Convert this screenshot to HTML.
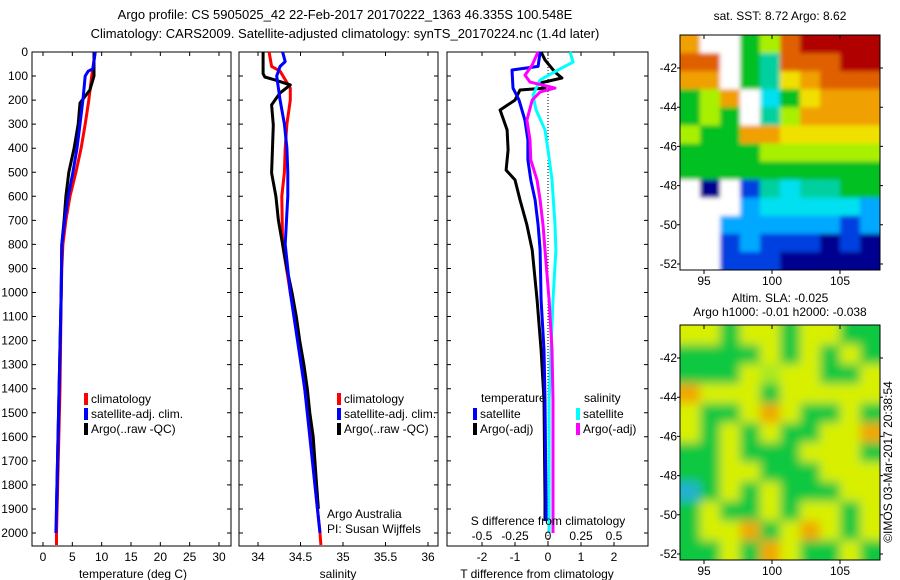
<!DOCTYPE html>
<html><head><meta charset="utf-8">
<style>
html,body{margin:0;padding:0;background:#fff;}
svg{display:block;font-family:"Liberation Sans",sans-serif;font-size:12px;}
</style></head>
<body>
<svg id="fig" width="900" height="580" viewBox="0 0 900 580" xmlns="http://www.w3.org/2000/svg">
<defs>
<filter id="blur" x="-5%" y="-5%" width="110%" height="110%"><feGaussianBlur stdDeviation="5"/></filter>
<filter id="blur2" x="-5%" y="-5%" width="110%" height="110%"><feGaussianBlur stdDeviation="2"/></filter>
<clipPath id="c1"><rect x="680" y="35" width="200" height="235"/></clipPath>
<clipPath id="c2"><rect x="680" y="325" width="200" height="235"/></clipPath>
</defs>
<text x="345" y="19" text-anchor="middle" font-size="13">Argo profile: CS 5905025_42 22-Feb-2017 20170222_1363 46.335S 100.548E</text>
<text x="345" y="38" text-anchor="middle" font-size="13">Climatology: CARS2009. Satellite-adjusted climatology: synTS_20170224.nc (1.4d later)</text>
<g id="g1"></g>
<g id="g2"></g>
<g id="g3"></g>
<g id="m1"></g>
<g id="m2"></g>
<text x="780" y="20" text-anchor="middle">sat. SST: 8.72 Argo: 8.62</text>
<text x="780" y="302" text-anchor="middle">Altim. SLA: -0.025</text>
<text x="780" y="316" text-anchor="middle">Argo h1000: -0.01 h2000: -0.038</text>
<text transform="translate(892,462) rotate(-90)" text-anchor="middle">©IMOS 03-Mar-2017 20:38:54</text>
<text x="327" y="518">Argo Australia</text>
<text x="327" y="533">PI: Susan Wijffels</text>
</svg>
<script>
// ---- data ----
const depthTicks=[0,100,200,300,400,500,600,700,800,900,1000,1100,1200,1300,1400,1500,1600,1700,1800,1900,2000];
const tempTicks=[0,5,10,15,20,25,30];
const salTicks=[34,34.5,35,35.5,36];
const salTickLabels=["34","34.5","35","35.5","36"];
const tdTicks=[-2,-1,0,1,2];
const sdTicks=[-0.5,-0.25,0,0.25,0.5];
const sdTickLabels=["-0.5","-0.25","0","0.25","0.5"];
const tempClimD=[0,100,200,300,400,500,600,700,800,900,1000,1400,2000,2050];
const tempClimV=[8.9,8.3,7.8,7.2,6.5,5.6,4.6,3.9,3.4,3.2,3.1,2.9,2.3,2.3];
const tempSatD=[0,70,80,100,200,300,400,500,600,700,800,1000,2000];
const tempSatV=[8.9,8.5,7.7,7.2,6.8,6.3,5.8,5.1,4.3,3.7,3.2,3.1,2.2];
const tempArgoD=[0,100,158,212,300,400,500,600,700,800,1000,1900];
const tempArgoV=[8.7,8.7,8.0,6.3,6.0,5.3,4.4,3.9,3.6,3.2,3.1,2.3];
const salClimD=[0,60,80,150,200,300,400,500,600,800,1000,1200,1400,1600,1800,2000,2050];
const salClimV=[34.13,34.16,34.26,34.38,34.38,34.34,34.32,34.31,34.28,34.29,34.38,34.48,34.55,34.62,34.67,34.73,34.74];
const salSatD=[0,40,60,100,150,200,300,400,500,600,800,1000,1400,2000];
const salSatV=[34.29,34.32,34.26,34.22,34.24,34.26,34.31,34.34,34.35,34.35,34.32,34.38,34.55,34.73];
const salArgoD=[0,90,104,116,137,170,220,304,503,600,700,800,900,1000,1100,1200,1300,1400,1500,1600,1800,1900];
const salArgoV=[34.06,34.06,34.08,34.2,34.38,34.26,34.16,34.18,34.16,34.21,34.24,34.29,34.34,34.4,34.45,34.49,34.54,34.58,34.61,34.65,34.69,34.71];
const tdSatD=[0,60,75,150,200,283,366,449,532,615,719,823,1031,1239,1447,1863,1950];
const tdSatV=[-0.24,-0.3,-1.09,-1.06,-0.88,-0.7,-0.61,-0.61,-0.52,-0.39,-0.3,-0.24,-0.21,-0.12,-0.09,-0.06,-0.06];
const tdArgoD=[0,33,83,108,129,150,158,200,241,324,407,491,532,615,719,823,1031,1239,1447,1863,1950];
const tdArgoV=[-0.21,-0.09,0.21,0.42,-0.24,-0.09,-0.85,-1.0,-1.45,-1.24,-1.21,-1.27,-1.0,-0.85,-0.64,-0.48,-0.33,-0.21,-0.12,-0.09,-0.09];
const sdSatD=[0,42,75,116,180,241,324,407,532,719,823,1031,1239,1447,1863,2000];
const sdSatV=[0.167,0.19,0.076,-0.06,-0.114,-0.09,-0.023,0,0.03,0.053,0.06,0.038,0.023,0.008,0.008,0.008];
const sdArgoD=[0,54,96,125,150,166,200,283,366,449,532,615,719,823,1031,1239,1447,1863,2000];
const sdArgoV=[-0.076,-0.12,-0.174,-0.136,0.053,-0.06,-0.12,-0.16,-0.136,-0.13,-0.083,-0.06,-0.038,-0.023,0.008,0.03,0.038,0.038,0.038];
const lonTicks=[95,100,105];
const latTicks=[-42,-44,-46,-48,-50,-52];
const sstGrid=[
[9,0,0,6,7,10,11,11,11,11],
[10,10,0,6,5,10,10,10,11,11],
[9,9,0,6,5,8,9,10,10,10],
[6,7,9,0,4,6,8,9,9,9],
[6,7,6,0,5,7,9,9,9,9],
[7,6,6,9,9,8,8,8,8,8],
[6,6,6,6,7,7,7,7,7,7],
[6,6,6,6,6,6,6,6,6,6],
[0,1,0,2,5,4,5,5,6,6],
[0,0,0,3,4,4,4,4,4,3],
[0,0,3,3,3,3,3,3,2,3],
[0,0,2,3,2,2,2,1,2,1],
[0,0,2,2,2,1,1,1,1,1]];
const slaGrid=[
"YYGYYGYYGG","GGGGYGYGYG","GGGYLYYGGY","OYYYGYYYYY","YGGYOYGGYG","YGYGYGGYYO",
"GGYGGGYYYG","GGYYGGGYYY","CGYGYGGGYY","GYGGYGYYGY","GYYOGYOYGY","GGYGOYGGYG"];
// ---- helpers ----
const NS="http://www.w3.org/2000/svg";
function mk(tag,parent,attrs){const e=document.createElementNS(NS,tag);for(const k in attrs)e.setAttribute(k,attrs[k]);parent.appendChild(e);return e;}
const Y0=52,Y1=546;
function yD(d){return 52+d*0.2405;}
function linear(d0,d1,r0,r1){return v=>r0+(v-d0)/(d1-d0)*(r1-r0);}
function panel(g,x0,x1,xs,ticks,labels,showY){
  const fr=mk('rect',g,{x:x0,y:Y0,width:x1-x0,height:Y1-Y0,fill:'none',stroke:'#000','stroke-width':1});
  
  
  depthTicks.forEach(d=>{
    const y=yD(d);
    const t=mk('path',g,{d:`M${x0} ${y}h4M${x1} ${y}h-4`,stroke:'#000'});
    
    
    if(showY){const l=mk('text',g,{x:28,y:y+4,'text-anchor':'end'});l.textContent=d;
      
      }
  });
  ticks.forEach((v,i)=>{
    const x=xs(v);
    const t=mk('path',g,{d:`M${x} ${Y0}v4M${x} ${Y1}v-4`,stroke:'#000'});
    
    
    const l=mk('text',g,{x:x,y:561,'text-anchor':'middle'});l.textContent=labels?labels[i]:v;
    
    
  });
}
function line(g,xs,D,V,col,name){
  const p=D.map((d,i)=>`${i?'L':'M'}${xs(V[i]).toFixed(1)} ${yD(d).toFixed(1)}`).join('');
  const e=mk('path',g,{d:p,fill:'none',stroke:col,'stroke-width':3,'stroke-linejoin':'round'});
  
  
}
function legend(g,x,y,col,txt,name){
  const r=mk('rect',g,{x:x,y:y-9,width:4,height:12,fill:col});
  
  
  const t=mk('text',g,{x:x+7,y:y+1});t.textContent=txt;
  
  
}
function label(g,x,y,txt,name){const t=mk('text',g,{x:x,y:y,'text-anchor':'middle'});t.textContent=txt;
  
  }
// ---- panel 1 ----
const g1=document.getElementById('g1');
const xT=linear(0,30,43,219);
panel(g1,32,231,xT,tempTicks,null,true);
line(g1,xT,tempClimD,tempClimV,'#f00','temp-climatology-line');
line(g1,xT,tempArgoD,tempArgoV,'#000','temp-argo-line');
line(g1,xT,tempSatD,tempSatV,'#00f','temp-satellite-line');
legend(g1,84,402,'#f00','climatology','legend-climatology');
legend(g1,84,417,'#00f','satellite-adj. clim.','legend-satellite');
legend(g1,84,432,'#000','Argo(..raw -QC)','legend-argo');
label(g1,133,578,'temperature (deg C)','x-axis-title-temperature');
// ---- panel 2 ----
const g2=document.getElementById('g2');
const xS=linear(34,36,258,428);
panel(g2,239,438,xS,salTicks,salTickLabels,false);
line(g2,xS,salClimD,salClimV,'#f00','sal-climatology-line');
line(g2,xS,salArgoD,salArgoV,'#000','sal-argo-line');
line(g2,xS,salSatD,salSatV,'#00f','sal-satellite-line');
legend(g2,337,402,'#f00','climatology','legend-climatology');
legend(g2,337,417,'#00f','satellite-adj. clim.','legend-satellite');
legend(g2,337,432,'#000','Argo(..raw -QC)','legend-argo');
label(g2,338,578,'salinity','x-axis-title-salinity');
// ---- panel 3 ----
const g3=document.getElementById('g3');
const xTd=linear(-2,2,482,614);
const xSd=linear(-0.5,0.5,482,614);
panel(g3,447,648,xTd,tdTicks,null,false);
const dl=mk('path',g3,{d:`M${xTd(0)} ${Y0}V${Y1}`,stroke:'#000','stroke-dasharray':'1 2'});


line(g3,xTd,tdArgoD,tdArgoV,'#000','tdiff-argo-line');
line(g3,xTd,tdSatD,tdSatV,'#00f','tdiff-satellite-line');
line(g3,xSd,sdSatD,sdSatV,'#0ff','sdiff-satellite-line');
line(g3,xSd,sdArgoD,sdArgoV,'#f0f','sdiff-argo-line');
sdTicks.forEach((v,i)=>{const t=mk('text',g3,{x:xSd(v),y:540,'text-anchor':'middle'});t.textContent=sdTickLabels[i];
  
  });
label(g3,548,525,'S difference from climatology','s-diff-axis-title');
label(g3,537,578,'T difference from climatology','t-diff-axis-title');
const lt=mk('text',g3,{x:481,y:402});lt.textContent='temperature';


const ls=mk('text',g3,{x:584,y:402});ls.textContent='salinity';


legend(g3,473,417,'#00f','satellite','legend-t-satellite');
legend(g3,473,432,'#000','Argo(-adj)','legend-t-argo');
legend(g3,576,417,'#0ff','satellite','legend-s-satellite');
legend(g3,576,432,'#f0f','Argo(-adj)','legend-s-argo');
// ---- maps ----
const sstCols=['#fff','#000090','#0040e0','#00a8ff','#00e0f0','#00d0a0','#00c020','#a8f000','#f0e000','#f0a000','#e06000','#b00000'];
const slaCols={G:'#10c840',Y:'#d8f000',L:'#a8e820',O:'#f0a800',C:'#20b0d0'};
function map(id,x0,y0,rows,colFn,name,clip,filt){
  const g=document.getElementById(id);
  const W=200,H=235,nr=rows.length,nc=rows[0].length;
  const outer=mk('g',g,{'clip-path':`url(#${clip})`});
  const cg=mk('g',outer,{filter:`url(#${filt})`});
  mk('rect',cg,{x:x0-10,y:y0-10,width:W+20,height:H+20,fill:colFn(rows[0][0])});
  for(let r=0;r<nr;r++)for(let c=0;c<nc;c++){
    const ex=(c===0?-10:0), ey=(r===0?-10:0), ew=(c===nc-1?10:0)-ex, eh=(r===nr-1?10:0)-ey;
    const cell=mk('rect',cg,{x:(x0+c*W/nc+ex).toFixed(1),y:(y0+r*H/nr+ey).toFixed(1),width:(W/nc+0.5+ew).toFixed(1),height:(H/nr+0.5+eh).toFixed(1),fill:colFn(rows[r][c])});
    
    
  }
  const fr=mk('rect',g,{x:x0,y:y0,width:W,height:H,fill:'none',stroke:'#000'});
  
  
  const xl=linear(95,100,704,772);
  lonTicks.forEach(v=>{const x=xl(v);
    const t=mk('path',g,{d:`M${x} ${y0+H}v4M${x} ${y0}v4`,stroke:'#000'});
    
    
    const l=mk('text',g,{x:x,y:y0+H+15,'text-anchor':'middle'});l.textContent=v;
    
    });
  const yl=linear(-42,-52,y0+33,y0+229);
  latTicks.forEach(v=>{const y=yl(v);
    const t=mk('path',g,{d:`M${x0} ${y}h-3M${x0+W} ${y}h3`,stroke:'#000'});
    
    
    const l=mk('text',g,{x:x0-3,y:y+4,'text-anchor':'end'});l.textContent=v;
    
    });
}
map('m1',680,35,sstGrid,v=>sstCols[v],'sst','c1','blur2');
map('m2',680,325,slaGrid,v=>slaCols[v],'sla','c2','blur');
</script>
</body></html>
